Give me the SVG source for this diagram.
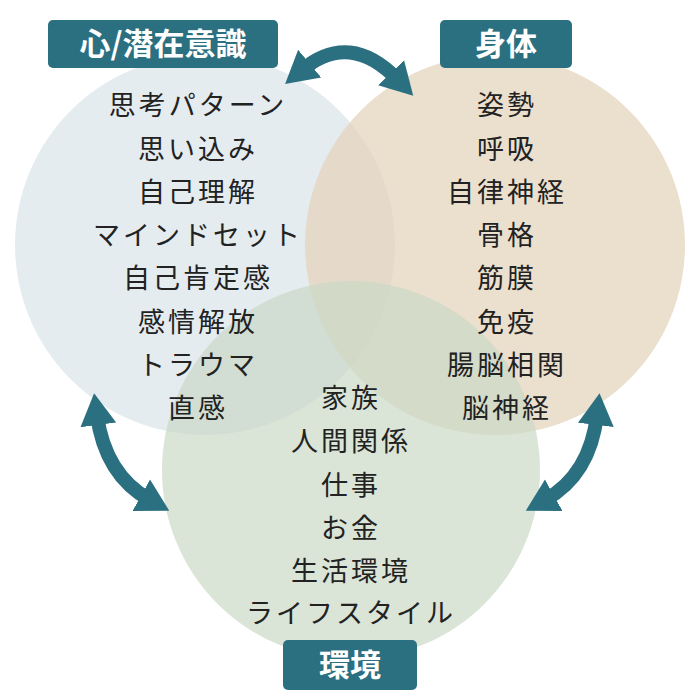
<svg xmlns="http://www.w3.org/2000/svg" width="700" height="700" viewBox="0 0 700 700">
<style>
.t{font-family:"Noto Sans CJK JP","Noto Sans",sans-serif;font-size:27px;fill:#222;text-anchor:middle;letter-spacing:3px}
.h{font-family:"Noto Sans CJK JP","Noto Sans",sans-serif;font-size:31px;font-weight:bold;fill:#fff;text-anchor:middle}
.b{fill:#2b7080}
.a{fill:none;stroke:#2b7080;stroke-width:14;marker-start:url(#m);marker-end:url(#m)}
</style>
<defs><marker id="m" markerUnits="userSpaceOnUse" markerWidth="40" markerHeight="40" refX="10" refY="20" orient="auto-start-reverse"><path d="M0,2 L32,20 L0,38 Z" fill="#2b7080"/></marker></defs>
<rect width="700" height="700" fill="#fff"/>
<g id="shin-circle"><circle cx="205" cy="245" r="190" fill="#dce6eb" opacity="0.75"/></g>
<g id="shintai-circle"><circle cx="495" cy="245" r="190" fill="#e4d4bd" opacity="0.75"/></g>
<g id="kankyo-circle"><circle cx="351" cy="470" r="189" fill="#cbd8c6" opacity="0.7"/></g>
<g id="connectors">
<path class="a" d="M302,70 Q350,30 398,80"/>
<path class="a" d="M97,415 Q105,475 150,500"/>
<path class="a" d="M597,415 Q590,475 545,500"/>
</g>
<g id="shin"><rect class="b" x="48" y="20" width="230" height="48" rx="5"/><text class="h" x="163" y="55">心/潜在意識</text>
<text class="t" x="198" y="115">思考パターン</text><text class="t" x="198" y="159">思い込み</text><text class="t" x="198" y="202">自己理解</text><text class="t" x="198" y="245">マインドセット</text><text class="t" x="198" y="288">自己肯定感</text><text class="t" x="198" y="332">感情解放</text><text class="t" x="198" y="375">トラウマ</text><text class="t" x="198" y="418">直感</text></g>
<g id="shintai"><rect class="b" x="440" y="20" width="132" height="48" rx="5"/><text class="h" x="506" y="55">身体</text>
<text class="t" x="507" y="115">姿勢</text><text class="t" x="507" y="159">呼吸</text><text class="t" x="507" y="202">自律神経</text><text class="t" x="507" y="245">骨格</text><text class="t" x="507" y="288">筋膜</text><text class="t" x="507" y="332">免疫</text><text class="t" x="507" y="375">腸脳相関</text><text class="t" x="507" y="418">脳神経</text></g>
<g id="kankyo"><rect class="b" x="283" y="640" width="134" height="50" rx="5"/><text class="h" x="350" y="676">環境</text>
<text class="t" x="351" y="408">家族</text><text class="t" x="351" y="451">人間関係</text><text class="t" x="351" y="495">仕事</text><text class="t" x="351" y="538">お金</text><text class="t" x="351" y="581">生活環境</text><text class="t" x="351" y="623">ライフスタイル</text></g>
</svg>
